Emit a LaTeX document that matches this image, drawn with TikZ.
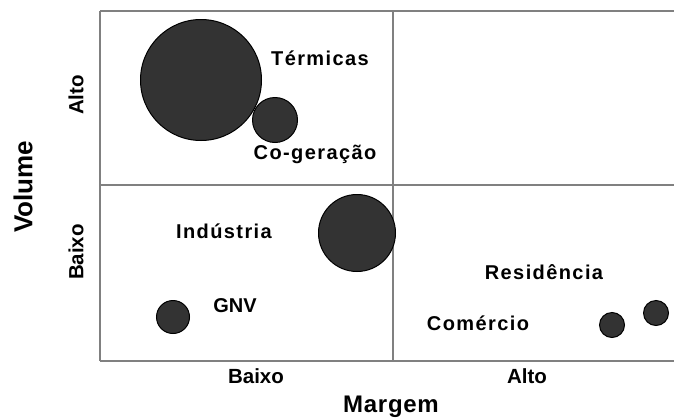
\documentclass[tikz,border=0pt]{standalone}
\usepackage{fontspec}
\setmainfont{Liberation Sans}
\newfontfamily\spacedfont[LetterSpace=7]{Liberation Sans}
\newfontfamily\axisfont[LetterSpace=3]{Liberation Sans}
\usepackage{tikz}

\begin{document}
\begin{tikzpicture}[x=1pt,y=-1pt,
  bubble/.style={circle,draw=black,line width=1pt,fill=black!80,inner sep=0pt},
  grid/.style={draw=black!50,line width=1.3pt},
  lbl/.style={font=\spacedfont\bfseries\fontsize{20}{22}\selectfont,inner sep=0pt},
  tick/.style={font=\bfseries\fontsize{20.5}{22}\selectfont,inner sep=0pt},
  axis/.style={font=\axisfont\bfseries\fontsize{24}{26}\selectfont,inner sep=0pt}]
\useasboundingbox (0,0) rectangle (674,418);

\coordinate (tl) at (100,11);
\coordinate (tr) at (674,11);
\coordinate (bl) at (100,361);
\coordinate (br) at (674,361);
\coordinate (ml) at (100,185);
\coordinate (mr) at (674,185);
\coordinate (mt) at (393,11);
\coordinate (mb) at (393,361);
\draw [grid](tl)--(tr);
\draw [grid](bl)--(br);
\draw [grid](tl)--(bl);
\draw [grid](ml)--(mr);
\draw [grid](mt)--(mb);

\node [bubble,minimum size=121pt](termicas) at (201,80){};
\node [bubble,minimum size=45pt](cogeracao) at (275,120){};
\node [bubble,minimum size=77pt](industria) at (357,233){};
\node [bubble,minimum size=33pt](gnv) at (173,317){};
\node [bubble,minimum size=25pt](comercio) at (612,325){};
\node [bubble,minimum size=25pt](residencia) at (656,313){};

\node [lbl](termicaslbl) at (320,58){Térmicas};
\node [lbl](cogeracaolbl) at (315,154){Co-geração};
\node [lbl](industrialbl) at (224,231){Indústria};
\node [font=\bfseries\fontsize{20}{22}\selectfont,inner sep=0pt](gnvlbl) at (235,306){GNV};
\node [lbl](residencialbl) at (544,272){Residência};
\node [lbl](comerciolbl) at (478,323){Comércio};

\node [tick](xbaixo) at (256,376){Baixo};
\node [tick](xalto) at (527,376){Alto};
\node [tick,rotate=90](yalto) at (76,95){Alto};
\node [tick,rotate=90](ybaixo) at (76,252){Baixo};
\node [axis](margem) at (391,407){Margem};
\node [font=\bfseries\fontsize{26}{28}\selectfont,inner sep=0pt,rotate=90](volume) at (23,187){Volume};
\end{tikzpicture}
\end{document}
